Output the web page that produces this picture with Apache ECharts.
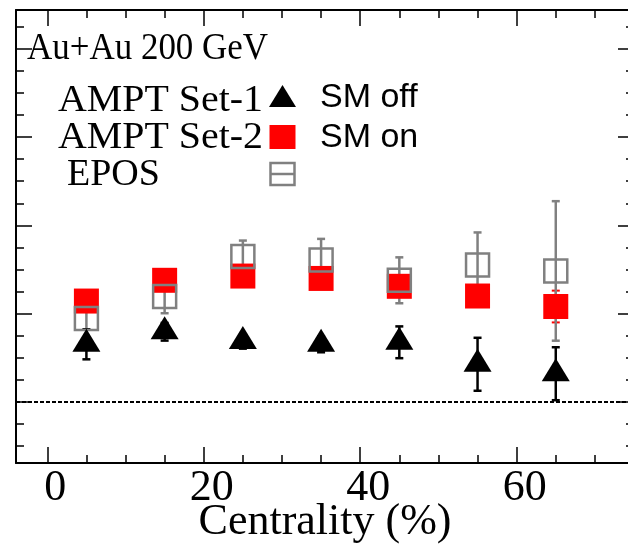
<!DOCTYPE html>
<html>
<head>
<meta charset="utf-8">
<script src="https://cdn.jsdelivr.net/npm/echarts@6/dist/echarts.min.js"></script>
<style>
html,body{margin:0;padding:0;background:#fff;}
#c{width:628px;height:546px;}
</style>
</head>
<body>
<div id="c"></div>
<script>
// ---- data ----
const centrality = [5, 15, 25, 35, 45, 55, 65];
const smOffVals = [0.653, 0.795, 0.684, 0.653, 0.676, 0.427, 0.320];
const smOffErrs = [0.17, 0.10, 0.08, 0.09, 0.18, 0.30, 0.30];
const smOnVals = [1.143, 1.378, 1.426, 1.399, 1.310, 1.200, 1.081];
const smOnErrs = [0.10, 0.10, 0.10, 0.10, 0.10, 0.10, 0.18];
const eposVals = [0.944, 1.195, 1.648, 1.607, 1.378, 1.550, 1.484];
const eposErrs = [0.21, 0.19, 0.18, 0.24, 0.26, 0.37, 0.79];

const xMajorTicks = [0, 20, 40, 60];
const xMinorTicks = [5, 10, 15, 25, 30, 35, 45, 50, 55, 65, 70];
const xTickLabels = [0, 20, 40, 60];
const yMajorTicks = [0, 1, 2, 3, 4];
const yMinorTicks = [-0.5, -0.25, 0.25, 0.5, 0.75, 1.25, 1.5, 1.75, 2.25, 2.5, 2.75, 3.25, 3.5, 3.75, 4.25];

const X_MIN = -4, X_MAX = 75, Y_MIN = -0.691, Y_MAX = 4.439;

const SERIF = 'Liberation Serif';
const SANS = 'Liberation Sans';

function xAx(pos, ticks, len, showLine, labels) {
  return {
    type: 'value', position: pos, min: X_MIN, max: X_MAX, gridIndex: 0,
    axisLine: {show: showLine, onZero: false, lineStyle: {color: '#000', width: 2}},
    axisTick: {show: true, inside: true, length: len, customValues: ticks, lineStyle: {color: '#000', width: 1.5}},
    axisLabel: labels ? {show: true, customValues: labels, color: '#000', fontFamily: SERIF, fontSize: 44, margin: 3, padding: [0, 0, 0, 16]} : {show: false},
    splitLine: {show: false}
  };
}
function yAx(pos, ticks, len, showLine) {
  return {
    type: 'value', position: pos, min: Y_MIN, max: Y_MAX, gridIndex: 0,
    axisLine: {show: showLine, onZero: false, lineStyle: {color: '#000', width: 2}},
    axisTick: {show: true, inside: true, length: len, customValues: ticks, lineStyle: {color: '#000', width: 1.5}},
    axisLabel: {show: false},
    splitLine: {show: false}
  };
}

const xAxes = [
  xAx('bottom', xMajorTicks, 16, true, xTickLabels),
  xAx('bottom', xMinorTicks, 8, false, null),
  xAx('top', xMajorTicks, 16, true, null),
  xAx('top', xMinorTicks, 8, false, null)
];
xAxes[0].name = 'Centrality (%)';
xAxes[0].nameLocation = 'middle';
xAxes[0].nameGap = 37;
xAxes[0].nameMoveOverlap = false;
xAxes[0].nameTextStyle = {color: '#000', fontFamily: SERIF, fontSize: 44};

const yAxes = [
  yAx('left', yMajorTicks, 16, true),
  yAx('left', yMinorTicks, 8, false),
  yAx('right', yMajorTicks, 16, true),
  yAx('right', yMinorTicks, 8, false)
];

function errData(vals, errs) {
  return centrality.map((x, i) => [x, vals[i], errs[i]]);
}
function errSeries(vals, errs, color, width) {
  return {
    type: 'custom', xAxisIndex: 0, yAxisIndex: 0, silent: true,
    data: errData(vals, errs),
    renderItem: function (params, api) {
      const x = api.value(0), y = api.value(1), e = api.value(2);
      const t = api.coord([x, y + e]);
      const b = api.coord([x, y - e]);
      const cw = 4;
      const st = {stroke: color, lineWidth: width, fill: null};
      return {type: 'group', children: [
        {type: 'line', shape: {x1: t[0], y1: t[1], x2: b[0], y2: b[1]}, style: st},
        {type: 'line', shape: {x1: t[0] - cw, y1: t[1], x2: t[0] + cw, y2: t[1]}, style: st},
        {type: 'line', shape: {x1: b[0] - cw, y1: b[1], x2: b[0] + cw, y2: b[1]}, style: st}
      ]};
    }
  };
}
function pts(vals) { return centrality.map((x, i) => [x, vals[i]]); }

const series = [
  {
    name: 'AMPT Set-2', type: 'scatter', xAxisIndex: 0, yAxisIndex: 0,
    symbol: 'rect', symbolSize: 25, data: pts(smOnVals),
    itemStyle: {color: '#ff0000', opacity: 1},
    markLine: {silent: true, symbol: 'none', label: {show: false},
      lineStyle: {color: '#000', width: 2, type: [4, 2]},
      data: [{yAxis: 0}]}
  },
  errSeries(smOnVals, smOnErrs, '#ff0000', 2),
  {
    name: 'EPOS', type: 'scatter', xAxisIndex: 0, yAxisIndex: 0,
    symbol: 'rect', symbolSize: 23, data: pts(eposVals),
    itemStyle: {color: 'rgba(0,0,0,0)', borderColor: '#808080', borderWidth: 2.5, opacity: 1}
  },
  errSeries(eposVals, eposErrs, '#808080', 2.5),
  errSeries(smOffVals, smOffErrs, '#000', 2.5),
  {
    name: 'AMPT Set-1', type: 'scatter', xAxisIndex: 0, yAxisIndex: 0,
    symbol: 'triangle', symbolSize: [28, 23], symbolOffset: [0, -4], data: pts(smOffVals),
    itemStyle: {color: '#000', opacity: 1}
  }
];

function txt(x, yMid, s, size, fam, sx) {
  return {type: 'text', x: x, y: yMid, scaleX: sx || 1,
    style: {text: s, font: size + 'px "' + fam + '"', fill: '#000', verticalAlign: 'middle', align: 'left'}};
}
const legendGraphics = [
  txt(27, 49.5, 'Au+Au 200 GeV', 38, SERIF, 0.92),
  txt(58, 101, 'AMPT Set-1', 38, SERIF, 1.05),
  txt(58, 138, 'AMPT Set-2', 38, SERIF, 1.05),
  txt(67, 175, 'EPOS', 38, SERIF),
  txt(320, 97.5, 'SM off', 34, SANS),
  txt(320, 137.5, 'SM on', 34, SANS),
  {type: 'polygon', shape: {points: [[282.5, 85], [296, 107], [269, 107]]}, style: {fill: '#000'}},
  {type: 'rect', shape: {x: 269.5, y: 125, width: 26, height: 24}, style: {fill: '#ff0000'}},
  {type: 'rect', shape: {x: 270.5, y: 163, width: 24, height: 22}, style: {fill: 'none', stroke: '#808080', lineWidth: 2.5}},
  {type: 'line', shape: {x1: 270.5, y1: 174, x2: 294.5, y2: 174}, style: {stroke: '#808080', lineWidth: 2.5}}
];

const chart = echarts.init(document.getElementById('c'), null, {renderer: 'canvas'});
chart.setOption({
  animation: false,
  backgroundColor: '#fff',
  grid: {left: 16, right: -6, top: 10, bottom: 83, containLabel: false, outerBoundsMode: 'none'},
  xAxis: xAxes,
  yAxis: yAxes,
  series: series,
  graphic: legendGraphics
});
</script>
</body>
</html>
